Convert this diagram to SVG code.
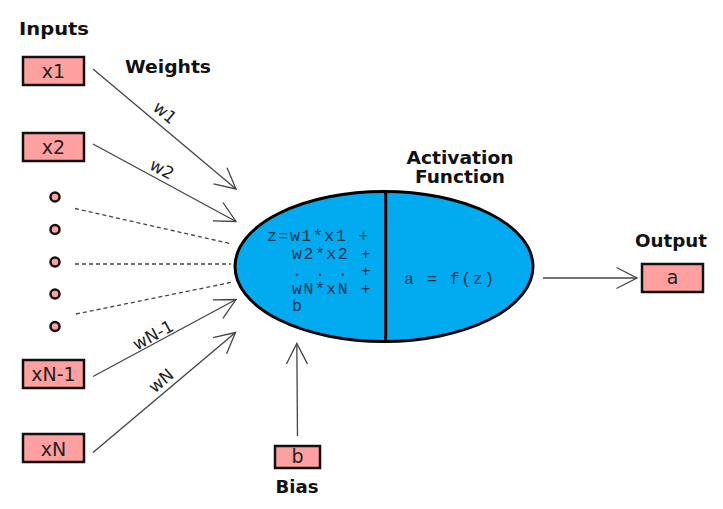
<svg xmlns="http://www.w3.org/2000/svg" width="723" height="509" viewBox="0 0 723 509">
  <style>
    .box { fill: #ffa0a0; stroke: #111; stroke-width: 2.5; }
    .dot { fill: #ffa0a0; stroke: #111; stroke-width: 2.5; }
    .lbl { font-family: "DejaVu Sans", Verdana, sans-serif; font-size: 19px; fill: #222; text-anchor: middle; }
    .wl { font-family: "DejaVu Sans", Verdana, sans-serif; font-size: 17px; fill: #222; text-anchor: middle; }
    .title { font-family: "DejaVu Sans", Verdana, sans-serif; font-size: 17.5px; font-weight: bold; fill: #111; text-anchor: middle; }
    .mono { font-family: "Liberation Mono", "Courier New", monospace; font-size: 16.5px; letter-spacing: 1.55px; fill: #103650; }
    .edge { stroke: #444; stroke-width: 1.3; fill: none; }
    .dash { stroke: #444; stroke-width: 1.3; fill: none; stroke-dasharray: 4 3; }
  </style>
  <defs>
    <marker id="arr" markerUnits="userSpaceOnUse" markerWidth="30" markerHeight="30" viewBox="-25 -15 30 30" refX="0" refY="0" orient="auto">
      <path d="M-20.5,-10.5 L0,0 L-20.5,10.5" fill="none" stroke="#444" stroke-width="1.3"/>
    </marker>
  </defs>
  <rect width="723" height="509" fill="#fff"/>

  <g id="titles">
    <text class="title" x="54" y="35" textLength="70" lengthAdjust="spacingAndGlyphs">Inputs</text>
    <text class="title" x="168" y="72.5" textLength="86" lengthAdjust="spacingAndGlyphs">Weights</text>
    <text class="title" x="460" y="164" textLength="107" lengthAdjust="spacingAndGlyphs">Activation</text>
    <text class="title" x="460" y="182.5" textLength="90" lengthAdjust="spacingAndGlyphs">Function</text>
    <text class="title" x="671" y="246.5" textLength="72" lengthAdjust="spacingAndGlyphs">Output</text>
    <text class="title" x="297" y="493" textLength="43" lengthAdjust="spacingAndGlyphs">Bias</text>
  </g>

  <g id="connectors">
    <line class="edge" x1="93" y1="69" x2="236" y2="189" marker-end="url(#arr)"/>
    <line class="edge" x1="93" y1="144" x2="236" y2="221.5" marker-end="url(#arr)"/>
    <line class="dash" x1="75" y1="208.5" x2="232" y2="244"/>
    <line class="dash" x1="75" y1="264" x2="231" y2="264"/>
    <line class="dash" x1="76" y1="314" x2="233" y2="282"/>
    <line class="edge" x1="93" y1="376.5" x2="236" y2="299.5" marker-end="url(#arr)"/>
    <line class="edge" x1="93" y1="452.5" x2="235.5" y2="332.5" marker-end="url(#arr)"/>
    <line class="edge" x1="297.5" y1="436" x2="296.8" y2="343.5" marker-end="url(#arr)"/>
    <line class="edge" x1="543" y1="278" x2="637" y2="278" marker-end="url(#arr)"/>
    <text class="wl" transform="translate(165,112.5) rotate(40)" dy="6">w1</text>
    <text class="wl" transform="translate(162,169) rotate(28.5)" dy="6">w2</text>
    <text class="wl" transform="translate(153,335) rotate(-28.4)" dy="6">wN-1</text>
    <text class="wl" transform="translate(161,380.5) rotate(-40)" dy="6">wN</text>
  </g>

  <g id="x1">
    <rect class="box" x="23" y="57" width="61" height="28"/>
    <text class="lbl" x="53.5" y="78">x1</text>
  </g>
  <g id="x2">
    <rect class="box" x="23" y="133" width="61" height="28"/>
    <text class="lbl" x="53.5" y="154">x2</text>
  </g>
  <g id="dots">
    <circle class="dot" cx="55" cy="197" r="4.5"/>
    <circle class="dot" cx="55" cy="229.5" r="4.5"/>
    <circle class="dot" cx="55" cy="262" r="4.5"/>
    <circle class="dot" cx="55" cy="294" r="4.5"/>
    <circle class="dot" cx="55" cy="326.5" r="4.5"/>
  </g>
  <g id="xN-1">
    <rect class="box" x="23" y="360" width="61" height="28"/>
    <text class="lbl" x="53.5" y="381">xN-1</text>
  </g>
  <g id="xN">
    <rect class="box" x="23" y="434" width="61" height="28"/>
    <text class="lbl" x="53.5" y="455.5">xN</text>
  </g>
  <g id="bias">
    <rect class="box" x="275" y="446" width="45" height="22"/>
    <text class="lbl" x="297.5" y="463">b</text>
  </g>
  <g id="output">
    <rect class="box" x="642" y="264" width="61" height="28"/>
    <text class="lbl" x="672.5" y="283.5">a</text>
  </g>

  <g id="neuron">
    <ellipse cx="384" cy="266.5" rx="149" ry="75" fill="#02aaf0" stroke="#000" stroke-width="3"/>
    <line x1="385.7" y1="191.5" x2="385.7" y2="341.5" stroke="#000" stroke-width="3"/>
    <text class="mono" x="267" y="241" xml:space="preserve">z=w1*x1 +</text>
    <text class="mono" x="292" y="258.5" xml:space="preserve">w2*x2 +</text>
    <text class="mono" x="292" y="276" xml:space="preserve">. . . +</text>
    <text class="mono" x="292" y="293.5" xml:space="preserve">wN*xN +</text>
    <text class="mono" x="292" y="311" xml:space="preserve">b</text>
    <text class="mono" x="404" y="284" xml:space="preserve">a = f(z)</text>
  </g>
</svg>
